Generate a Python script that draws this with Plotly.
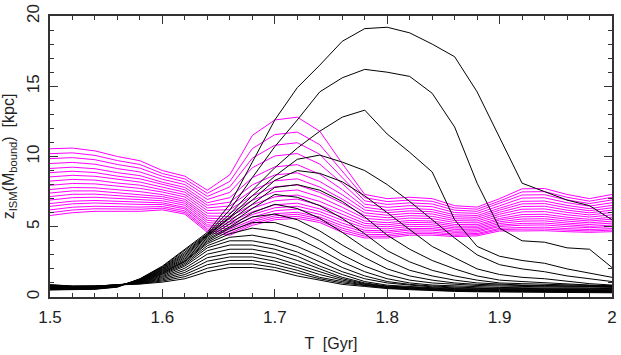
import plotly.graph_objects as go

# sample times (Gyr), one value every 0.02
T = [1.50, 1.52, 1.54, 1.56, 1.58, 1.60, 1.62, 1.64, 1.66, 1.68, 1.70, 1.72, 1.74,
     1.76, 1.78, 1.80, 1.82, 1.84, 1.86, 1.88, 1.90, 1.92, 1.94, 1.96, 1.98, 2.00]

# magenta family: heights of the 18 curves (top -> bottom) at each time
mag_150 = [10.55, 10.20, 9.85, 9.50, 9.15, 8.85, 8.55, 8.25, 7.95, 7.65, 7.40, 7.15, 6.90, 6.65, 6.45, 6.20, 6.00, 5.80]
mag_152 = [10.6, 10.26, 9.92, 9.58, 9.24, 8.95, 8.66, 8.37, 8.08, 7.79, 7.55, 7.31, 7.07, 6.82, 6.63, 6.39, 6.19, 6.0]
mag_154 = [10.4, 10.08, 9.77, 9.45, 9.13, 8.86, 8.59, 8.32, 8.05, 7.77, 7.55, 7.32, 7.10, 6.87, 6.69, 6.46, 6.28, 6.1]
mag_156 = [10.0, 9.71, 9.43, 9.14, 8.85, 8.6, 8.36, 8.11, 7.87, 7.62, 7.41, 7.21, 7.0, 6.8, 6.63, 6.43, 6.26, 6.1]
mag_158 = [9.7, 9.43, 9.17, 8.9, 8.64, 8.41, 8.18, 7.96, 7.73, 7.5, 7.31, 7.12, 6.94, 6.74, 6.59, 6.4, 6.25, 6.1]
mag_160 = [9.0, 8.79, 8.59, 8.38, 8.17, 8.0, 7.82, 7.64, 7.47, 7.29, 7.14, 7.0, 6.85, 6.7, 6.58, 6.44, 6.32, 6.2]
mag_162 = [8.6, 8.4, 8.2, 8.0, 7.8, 7.63, 7.46, 7.29, 7.12, 6.95, 6.81, 6.67, 6.53, 6.38, 6.27, 6.13, 6.01, 5.9]
mag_164 = [7.6, 7.38, 7.16, 6.94, 6.71, 6.53, 6.34, 6.15, 5.96, 5.77, 5.61, 5.45, 5.3, 5.14, 5.01, 4.85, 4.73, 4.6]
mag_166 = [8.7, 8.23, 7.84, 7.45, 7.07, 6.75, 6.48, 6.22, 5.97, 5.73, 5.53, 5.33, 5.16, 4.98, 4.82, 4.67, 4.53, 4.4]
mag_168 = [11.5, 10.56, 9.88, 9.2, 8.49, 7.98, 7.6, 7.21, 6.89, 6.57, 6.32, 6.06, 5.87, 5.68, 5.48, 5.36, 5.23, 5.1]
mag_170 = [12.6, 11.56, 10.8, 10.04, 9.26, 8.69, 8.27, 7.84, 7.49, 7.13, 6.85, 6.56, 6.35, 6.14, 5.93, 5.78, 5.64, 5.5]
mag_172 = [12.8, 11.74, 10.98, 10.21, 9.42, 8.84, 8.41, 7.98, 7.62, 7.26, 6.97, 6.68, 6.46, 6.25, 6.03, 5.89, 5.74, 5.6]
mag_174 = [11.8, 10.84, 10.16, 9.46, 8.74, 8.22, 7.83, 7.44, 7.12, 6.8, 6.53, 6.27, 6.08, 5.88, 5.69, 5.56, 5.43, 5.3]
mag_176 = [9.5, 8.96, 8.52, 8.08, 7.64, 7.28, 6.97, 6.67, 6.39, 6.12, 5.89, 5.66, 5.46, 5.26, 5.08, 4.9, 4.75, 4.6]
mag_178 = [7.3, 7.07, 6.84, 6.61, 6.39, 6.19, 5.99, 5.8, 5.6, 5.41, 5.24, 5.08, 4.92, 4.75, 4.62, 4.46, 4.33, 4.2]
mag_180 = [7.0, 6.79, 6.59, 6.38, 6.17, 6.0, 5.82, 5.64, 5.47, 5.29, 5.14, 5.0, 4.85, 4.7, 4.58, 4.44, 4.32, 4.2]
mag_182 = [7.1, 6.9, 6.7, 6.5, 6.3, 6.13, 5.96, 5.79, 5.62, 5.45, 5.31, 5.17, 5.03, 4.88, 4.77, 4.63, 4.51, 4.4]
mag_184 = [7.0, 6.81, 6.62, 6.43, 6.23, 6.07, 5.91, 5.74, 5.58, 5.41, 5.28, 5.14, 5.0, 4.87, 4.76, 4.62, 4.51, 4.4]
mag_186 = [6.5, 6.34, 6.18, 6.01, 5.85, 5.71, 5.57, 5.44, 5.3, 5.16, 5.04, 4.92, 4.81, 4.69, 4.6, 4.48, 4.39, 4.3]
mag_188 = [6.4, 6.25, 6.1, 5.95, 5.8, 5.67, 5.54, 5.41, 5.28, 5.15, 5.04, 4.93, 4.83, 4.72, 4.63, 4.52, 4.44, 4.35]
mag_190 = [7.0, 6.83, 6.66, 6.49, 6.32, 6.18, 6.03, 5.89, 5.74, 5.59, 5.48, 5.35, 5.23, 5.11, 5.02, 4.89, 4.8, 4.7]
mag_192 = [7.7, 7.48, 7.26, 7.04, 6.81, 6.63, 6.44, 6.25, 6.06, 5.87, 5.71, 5.55, 5.4, 5.24, 5.11, 4.95, 4.83, 4.7]
mag_194 = [7.72, 7.5, 7.28, 7.06, 6.83, 6.65, 6.46, 6.27, 6.08, 5.89, 5.73, 5.57, 5.42, 5.26, 5.13, 4.97, 4.84, 4.72]
mag_196 = [7.3, 7.1, 6.91, 6.71, 6.52, 6.35, 6.18, 6.02, 5.85, 5.68, 5.54, 5.4, 5.26, 5.12, 5.01, 4.87, 4.76, 4.65]
mag_198 = [7.0, 6.82, 6.65, 6.47, 6.29, 6.14, 5.99, 5.84, 5.69, 5.53, 5.41, 5.28, 5.16, 5.03, 4.93, 4.8, 4.7, 4.6]
mag_200 = [7.3, 7.1, 6.91, 6.71, 6.52, 6.35, 6.18, 6.02, 5.85, 5.68, 5.54, 5.4, 5.26, 5.12, 5.01, 4.87, 4.76, 4.65]

mag_snapshots = [mag_150, mag_152, mag_154, mag_156, mag_158, mag_160, mag_162, mag_164,
                 mag_166, mag_168, mag_170, mag_172, mag_174, mag_176, mag_178, mag_180,
                 mag_182, mag_184, mag_186, mag_188, mag_190, mag_192, mag_194, mag_196,
                 mag_198, mag_200]

# black family, one list per curve (highest peak first)
blk_00 = [0.50, 0.50, 0.55, 0.70, 1.30, 2.20, 3.40, 4.60, 6.60, 9.60, 12.6, 14.9, 16.5, 18.2, 19.1, 19.2, 18.8, 18.0, 17.1, 14.6, 11.3, 8.1, 7.5, 6.9, 6.5, 5.5]
blk_01 = [0.52, 0.52, 0.57, 0.72, 1.28, 2.15, 3.30, 4.50, 6.20, 8.50, 10.7, 12.6, 14.6, 15.6, 16.2, 16.0, 15.7, 14.5, 12.1, 8.1, 4.9, 4.0, 3.9, 3.5, 3.4, 2.1]
blk_02 = [0.54, 0.54, 0.58, 0.74, 1.26, 2.10, 3.20, 4.45, 5.90, 7.60, 9.20, 10.6, 11.8, 12.8, 13.3, 11.6, 10.3, 8.9, 5.5, 3.6, 2.9, 2.6, 2.4, 2.0, 1.7, 1.4]
blk_03 = [0.56, 0.56, 0.60, 0.75, 1.24, 2.05, 3.10, 4.40, 5.70, 7.20, 8.60, 9.80, 10.1, 9.6, 9.0, 8.0, 6.8, 5.5, 4.2, 3.0, 2.3, 2.0, 1.8, 1.5, 1.3, 1.1]
blk_04 = [0.58, 0.58, 0.61, 0.76, 1.22, 2.00, 3.00, 4.35, 5.60, 6.90, 8.30, 9.0, 8.8, 8.2, 7.2, 6.0, 4.8, 3.6, 2.8, 2.0, 1.6, 1.4, 1.3, 1.1, 0.95, 0.85]
blk_05 = [0.60, 0.60, 0.62, 0.77, 1.20, 1.95, 2.90, 4.30, 5.40, 6.60, 7.80, 8.0, 7.6, 6.8, 5.7, 4.4, 3.4, 2.6, 2.0, 1.5, 1.2, 1.1, 1.0, 0.9, 0.85, 0.8]
blk_06 = [0.62, 0.62, 0.64, 0.78, 1.18, 1.90, 2.80, 4.20, 5.20, 6.30, 7.30, 7.1, 6.5, 5.6, 4.5, 3.3, 2.5, 1.9, 1.5, 1.2, 1.0, 0.95, 0.9, 0.85, 0.8, 0.78]
blk_07 = [0.64, 0.64, 0.65, 0.79, 1.16, 1.85, 2.70, 4.10, 5.00, 6.00, 6.60, 6.3, 5.6, 4.6, 3.5, 2.6, 1.9, 1.5, 1.2, 1.0, 0.9, 0.85, 0.82, 0.8, 0.78, 0.76]
blk_08 = [0.66, 0.66, 0.67, 0.80, 1.14, 1.80, 2.60, 4.00, 4.90, 5.70, 5.90, 5.5, 4.7, 3.7, 2.8, 2.0, 1.5, 1.2, 1.0, 0.9, 0.85, 0.8, 0.78, 0.76, 0.75, 0.74]
blk_09 = [0.68, 0.67, 0.68, 0.81, 1.12, 1.75, 2.55, 3.90, 4.70, 5.30, 5.30, 4.8, 4.0, 3.0, 2.2, 1.6, 1.2, 1.0, 0.9, 0.82, 0.78, 0.74, 0.72, 0.7, 0.7, 0.68]
blk_10 = [0.70, 0.68, 0.70, 0.82, 1.10, 1.70, 2.50, 3.80, 4.50, 4.90, 4.70, 4.2, 3.4, 2.5, 1.8, 1.3, 1.0, 0.85, 0.78, 0.72, 0.68, 0.66, 0.64, 0.62, 0.62, 0.6]
blk_11 = [0.72, 0.70, 0.71, 0.83, 1.08, 1.65, 2.40, 3.65, 4.25, 4.40, 4.10, 3.6, 2.9, 2.1, 1.5, 1.1, 0.9, 0.78, 0.7, 0.65, 0.62, 0.6, 0.58, 0.57, 0.56, 0.56]
blk_12 = [0.74, 0.71, 0.72, 0.84, 1.06, 1.60, 2.30, 3.50, 4.00, 4.00, 3.70, 3.2, 2.5, 1.8, 1.3, 1.0, 0.85, 0.72, 0.65, 0.6, 0.57, 0.55, 0.54, 0.53, 0.52, 0.52]
blk_13 = [0.76, 0.72, 0.73, 0.84, 1.04, 1.52, 2.20, 3.30, 3.70, 3.70, 3.40, 2.9, 2.2, 1.6, 1.1, 0.84, 0.74, 0.66, 0.6, 0.56, 0.53, 0.51, 0.5, 0.49, 0.48, 0.48]
blk_14 = [0.78, 0.73, 0.74, 0.85, 1.02, 1.45, 2.05, 3.05, 3.40, 3.40, 3.10, 2.6, 2.0, 1.4, 1.0, 0.78, 0.7, 0.62, 0.56, 0.52, 0.5, 0.48, 0.47, 0.46, 0.45, 0.45]
blk_15 = [0.80, 0.74, 0.75, 0.85, 1.00, 1.38, 1.90, 2.80, 3.10, 3.10, 2.80, 2.3, 1.8, 1.3, 0.95, 0.74, 0.66, 0.58, 0.52, 0.49, 0.47, 0.45, 0.44, 0.43, 0.42, 0.42]
blk_16 = [0.82, 0.75, 0.76, 0.86, 0.98, 1.30, 1.75, 2.55, 2.85, 2.85, 2.55, 2.1, 1.6, 1.2, 0.9, 0.7, 0.63, 0.54, 0.49, 0.46, 0.44, 0.42, 0.41, 0.4, 0.39, 0.39]
blk_17 = [0.84, 0.76, 0.77, 0.86, 0.96, 1.22, 1.60, 2.30, 2.60, 2.60, 2.30, 1.9, 1.4, 1.1, 0.85, 0.67, 0.6, 0.5, 0.46, 0.43, 0.41, 0.39, 0.38, 0.37, 0.36, 0.36]
blk_18 = [0.86, 0.77, 0.78, 0.87, 0.94, 1.14, 1.45, 2.05, 2.35, 2.35, 2.10, 1.7, 1.3, 1.0, 0.8, 0.63, 0.56, 0.47, 0.43, 0.4, 0.38, 0.36, 0.35, 0.34, 0.33, 0.33]
blk_19 = [0.88, 0.78, 0.79, 0.87, 0.92, 1.06, 1.30, 1.80, 2.10, 2.10, 1.90, 1.5, 1.2, 0.9, 0.75, 0.6, 0.52, 0.44, 0.4, 0.37, 0.35, 0.33, 0.32, 0.31, 0.3, 0.3]

black_curves = [blk_00, blk_01, blk_02, blk_03, blk_04, blk_05, blk_06, blk_07, blk_08, blk_09,
                blk_10, blk_11, blk_12, blk_13, blk_14, blk_15, blk_16, blk_17, blk_18, blk_19]

x_ticks = [1.5, 1.6, 1.7, 1.8, 1.9, 2.0]
x_ticktext = ["1.5", "1.6", "1.7", "1.8", "1.9", "2"]
y_ticks = [0, 5, 10, 15, 20]
y_ticktext = ["0", "5", "10", "15", "20"]

FONT = "Liberation Sans, Arial, sans-serif"

fig = go.Figure()

# magenta first, black drawn over it
for curve in zip(*mag_snapshots):
    fig.add_trace(go.Scatter(x=T, y=list(curve), mode="lines",
                             line=dict(color="#ff00ff", width=1), showlegend=False))

for curve in black_curves:
    fig.add_trace(go.Scatter(x=T, y=curve, mode="lines",
                             line=dict(color="black", width=1), showlegend=False))

axis_common = dict(
    showline=True, linecolor="#333", linewidth=1.5, mirror="allticks",
    ticks="inside", ticklen=8, tickcolor="#333", tickwidth=1.2,
    showgrid=False, zeroline=False, ticklabeloverflow="allow",
    tickfont=dict(family=FONT, size=17, color="#222"),
)

fig.update_layout(
    width=621, height=355,
    margin=dict(l=50, r=4, t=10, b=58),
    paper_bgcolor="white", plot_bgcolor="white",
    font=dict(family=FONT, color="#222"),
    xaxis=dict(axis_common, range=[1.5, 2.0], tickvals=x_ticks, ticktext=x_ticktext,
               minor=dict(dtick=0.02, ticks="inside", ticklen=4, tickcolor="#333"),
               ticklabelstandoff=4,
               title=dict(text="T  [Gyr]", font=dict(size=16), standoff=12)),
    # y tick labels stand on end, as in the original
    yaxis=dict(axis_common, range=[0, 20], tickvals=y_ticks, ticktext=y_ticktext,
               tickangle=-90, ticklabelstandoff=2,
               minor=dict(dtick=1, ticks="inside", ticklen=4, tickcolor="#333"),
               title=dict(text="z<sub>ISM</sub>(M<sub>bound</sub>)  [kpc]", font=dict(size=16), standoff=6)),
)

# drop the page's default body margin so the figure sits at the window's corner
fig.write_html("out.html", config={"displayModeBar": False},
               post_script="document.body.style.margin='0';")
